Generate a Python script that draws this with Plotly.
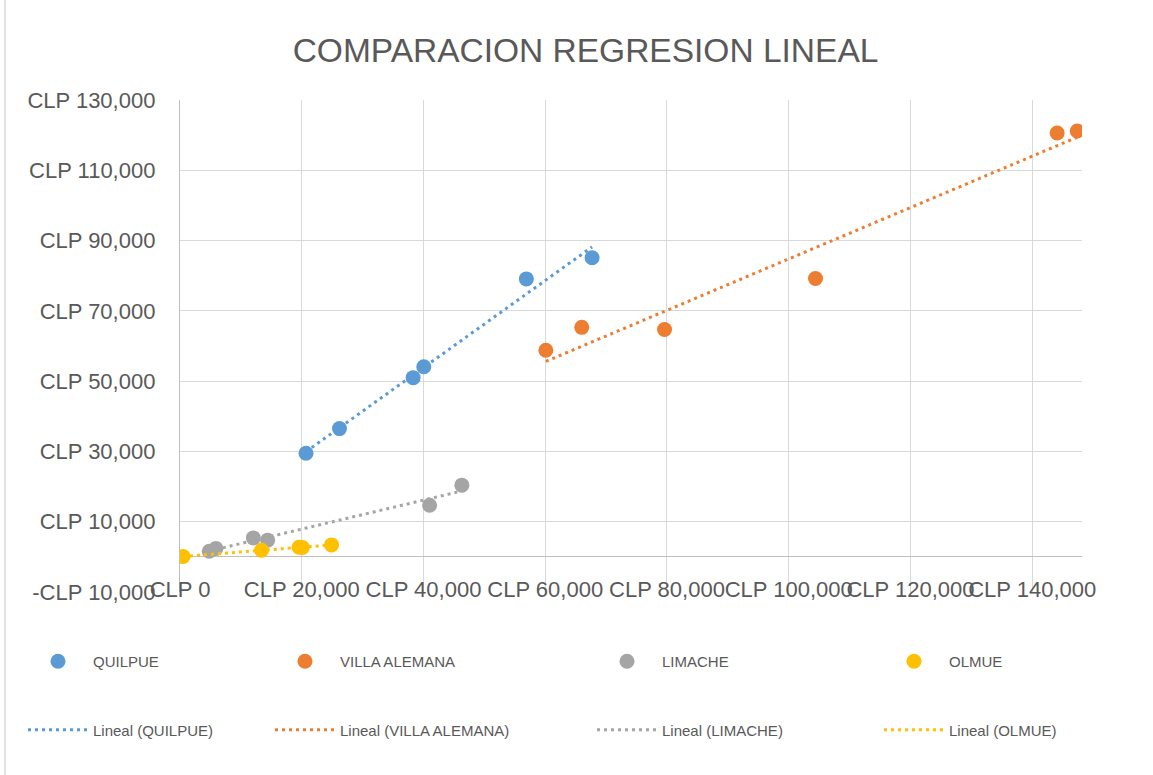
import numpy as np
import plotly.graph_objects as go

# ---- data ----
series_names = ["QUILPUE", "VILLA ALEMANA", "LIMACHE", "OLMUE"]
colors = ["#5B9BD5", "#ED7D31", "#A5A5A5", "#FFC000"]

quilpue_x = [20700, 26200, 38300, 40050, 56900, 67700]
quilpue_y = [29500, 36500, 51000, 54100, 79100, 85100]

villa_x = [60100, 66000, 79600, 104400, 144100, 147400]
villa_y = [58800, 65300, 64700, 79200, 120600, 121200]

limache_x = [4800, 5900, 12050, 14400, 41000, 46300]
limache_y = [1600, 2400, 5400, 4750, 14700, 20400]

olmue_x = [500, 13400, 19550, 20100, 24900]
olmue_y = [100, 1900, 2750, 2650, 3400]

x_tickvals = [0, 20000, 40000, 60000, 80000, 100000, 120000, 140000]
x_ticktext = ["CLP 0", "CLP 20,000", "CLP 40,000", "CLP 60,000", "CLP 80,000",
              "CLP 100,000", "CLP 120,000", "CLP 140,000"]
y_tickvals = [-10000, 10000, 30000, 50000, 70000, 90000, 110000, 130000]
y_ticktext = ["-CLP 10,000", "CLP 10,000", "CLP 30,000", "CLP 50,000", "CLP 70,000",
              "CLP 90,000", "CLP 110,000", "CLP 130,000"]

xs = [quilpue_x, villa_x, limache_x, olmue_x]
ys = [quilpue_y, villa_y, limache_y, olmue_y]

FONT = "Liberation Sans, Arial, sans-serif"
TXT = "#595959"
GRID = "#D9D9D9"

W, H = 1153, 775
L, R, T, B = 180, 71, 100, 183
pw, ph = W - L - R, H - T - B


def px2paper_x(p):
    return (p - L) / pw


def px2paper_y(p):
    return (H - B - p) / ph


fig = go.Figure()
legend_left_px = [23, 270, 592, 879]
legend_keys = ["legend", "legend2", "legend3", "legend4"]

for i, name in enumerate(series_names):
    x = np.array(xs[i], dtype=float)
    y = np.array(ys[i], dtype=float)
    lg = legend_keys[i]
    fig.add_trace(go.Scatter(
        x=x, y=y, mode="markers", name=name,
        marker=dict(color=colors[i], size=15),
        legend=lg, legendgroup=f"m{i}", showlegend=True))
    slope, icpt = np.polyfit(x, y, 1)
    tx = np.array([x.min(), x.max()])
    ty = slope * tx + icpt
    fig.add_trace(go.Scatter(
        x=tx, y=ty, mode="lines", name=f"Lineal ({name})",
        line=dict(color=colors[i], width=3, dash="3px,4px"),
        legend=lg, legendgroup=f"t{i}", showlegend=True))

legend_common = dict(
    orientation="v", xanchor="left", yanchor="top",
    y=px2paper_y(645), font=dict(family=FONT, size=15, color=TXT),
    bgcolor="rgba(0,0,0,0)", itemwidth=60, tracegroupgap=46,
    traceorder="grouped",
)
layout_legends = {}
for k, lx in zip(legend_keys, legend_left_px):
    layout_legends[k] = dict(legend_common, x=px2paper_x(lx))

fig.update_layout(
    width=W, height=H,
    margin=dict(l=L, r=R, t=T, b=B, autoexpand=False),
    paper_bgcolor="white", plot_bgcolor="white",
    font=dict(family=FONT, color=TXT),
    title=dict(text="COMPARACION REGRESION LINEAL", x=585.5 / W, xanchor="center",
               y=1 - 50 / H, yanchor="middle",
               font=dict(family=FONT, size=33.5, color=TXT)),
    xaxis=dict(range=[0, 148180], tickvals=x_tickvals, ticktext=x_ticktext,
               showgrid=True, gridcolor=GRID, gridwidth=1.3,
               zeroline=False, showline=False, ticks="", tickangle=0,
               tickfont=dict(family=FONT, size=22, color=TXT),
               ticklabelstandoff=-18),
    yaxis=dict(range=[-10000, 130000], tickvals=y_tickvals, ticktext=y_ticktext,
               showgrid=True, gridcolor=GRID, gridwidth=1.3,
               zeroline=True, zerolinecolor="#BFBFBF", zerolinewidth=1.3,
               showline=True, linecolor="#BFBFBF", linewidth=1.3, ticks="",
               tickfont=dict(family=FONT, size=22, color=TXT),
               ticklabelstandoff=19),
    showlegend=True,
    **layout_legends,
)

# chart-area border (left edge visible in the reference)
fig.add_shape(type="line", xref="paper", yref="paper",
              x0=px2paper_x(5), x1=px2paper_x(5), y0=px2paper_y(0), y1=px2paper_y(775),
              line=dict(color="#D9D9D9", width=1.5))

fig.write_html("out.html", config={"displayModeBar": False},
               post_script="document.body.style.margin='0';document.body.style.overflow='hidden';")
